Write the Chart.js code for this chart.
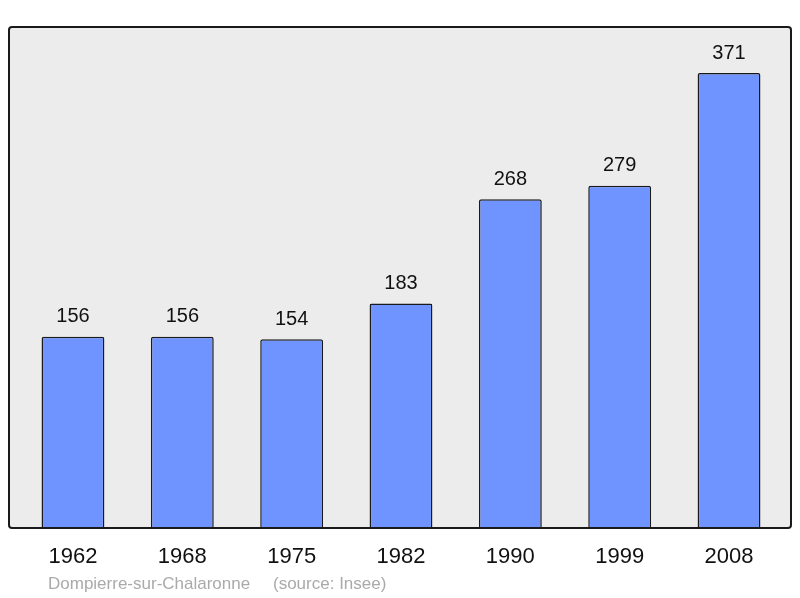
<!DOCTYPE html>
<html>
<head>
<meta charset="utf-8">
<script src="https://cdn.jsdelivr.net/npm/chart.js@4/dist/chart.umd.min.js"></script>
<style>
  html, body { margin: 0; padding: 0; background: #fff; }
</style>
</head>
<body>
<canvas id="chart" width="800" height="598"></canvas>
<script>
const years = ['1962', '1968', '1975', '1982', '1990', '1999', '2008'];
const population = [156, 156, 154, 183, 268, 279, 371];
const placeName = 'Dompierre-sur-Chalaronne';
const sourceNote = '(source: Insee)';

const FONT = '"Liberation Sans", Arial, sans-serif';

function panelRect(a) {
    return { x: 9, y: a.top, w: 782, h: a.bottom - a.top };
}

// grey panel with black frame behind the bars
const panel = {
    id: 'panel',
    beforeDraw(chart) {
        const { ctx } = chart;
        const r = panelRect(chart.chartArea);
        ctx.save();
        ctx.beginPath();
        ctx.roundRect(r.x, r.y, r.w, r.h, 3);
        ctx.fillStyle = '#ececec';
        ctx.fill();
        ctx.restore();
    },
    afterDatasetsDraw(chart) {
        const { ctx } = chart;
        const r = panelRect(chart.chartArea);
        ctx.save();
        ctx.beginPath();
        ctx.roundRect(r.x, r.y, r.w, r.h, 3);
        ctx.lineWidth = 2;
        ctx.strokeStyle = '#1a1a1a';
        ctx.stroke();

        // value labels above bars
        const meta = chart.getDatasetMeta(0);
        ctx.fillStyle = '#111';
        ctx.font = '20px ' + FONT;
        ctx.textAlign = 'center';
        ctx.textBaseline = 'middle';
        meta.data.forEach((bar, i) => {
            ctx.fillText(String(population[i]), bar.x, bar.y - 20);
        });

        // source line
        ctx.fillStyle = '#aaaaaa';
        ctx.font = '17px ' + FONT;
        ctx.textAlign = 'left';
        ctx.fillText(placeName, 48, 584);
        ctx.fillText(sourceNote, 273, 584);
        ctx.restore();
    }
};

new Chart(document.querySelector('#chart'), {
    type: 'bar',
    data: {
        labels: years,
        datasets: [{
            data: population,
            backgroundColor: '#7094ff',
            borderColor: '#1a1a1a',
            borderWidth: 1.5,
            borderRadius: 2,
            borderSkipped: 'bottom',
            barPercentage: 0.575,
            categoryPercentage: 1,
        }],
    },
    options: {
        responsive: false,
        animation: false,
        layout: { padding: { left: 18.3, right: 16.3, top: 27, bottom: 0 } },
        plugins: {
            legend: { display: false },
            tooltip: { enabled: false },
        },
        scales: {
            x: {
                grid: { display: false },
                border: { display: false },
                ticks: {
                    color: '#111',
                    font: { family: FONT, size: 22 },
                    padding: 8,
                },
                afterFit: scale => { scale.height = 70; },
            },
            y: {
                display: false,
                min: 0,
                max: 408.5,
            },
        },
    },
    plugins: [panel],
});
</script>
</body>
</html>
